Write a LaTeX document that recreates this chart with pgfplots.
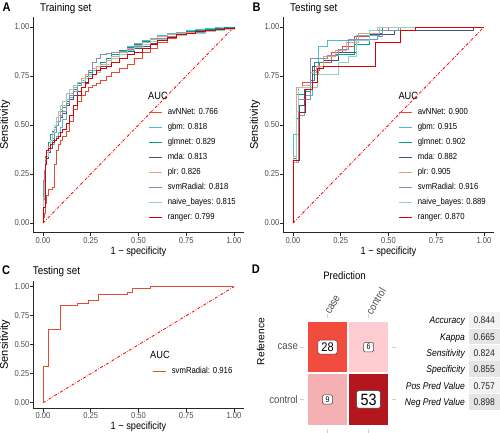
\documentclass[border=0pt]{standalone}
\usepackage{pgfplots}
\usepackage{pgfplotstable}
\pgfplotsset{compat=1.18}
\usepackage{fontspec}
\setmainfont{Liberation Sans}[FakeStretch=0.88]
\newfontfamily\rotfont{Liberation Sans}

\definecolor{cavn}{HTML}{E64B35}
\definecolor{cgbm}{HTML}{4DBBD5}
\definecolor{cglm}{HTML}{00A087}
\definecolor{cmda}{HTML}{3C5488}
\definecolor{cplr}{HTML}{F39B7F}
\definecolor{csvm}{HTML}{8491B4}
\definecolor{cnb}{HTML}{91D1C2}
\definecolor{crf}{HTML}{DC0000}
\definecolor{gtext}{HTML}{4D4D4D}
\definecolor{tA}{HTML}{F24C3E}
\definecolor{tB}{HTML}{FFCCD2}
\definecolor{tC}{HTML}{F5B0B3}
\definecolor{tD}{HTML}{B3171D}
\definecolor{g95}{HTML}{F2F2F2}
\definecolor{g90}{HTML}{E5E5E5}

\pgfplotstableread{
x     avNNet gbm  glmnet mda  plr  svmRadial nb   ranger
0     0      0    0      0    0    0         0    0
0     0.03   0.12 0.18   0.20 0.15 0.22      0.13 0.08
0.005 0.05   0.20 0.25   0.26 0.22 0.27      0.20 0.08
0.01  0.07   0.27 0.30   0.27 0.29 0.30      0.26 0.27
0.015 0.10   0.30 0.34   0.30 0.33 0.32      0.30 0.30
0.02  0.14   0.33 0.37   0.33 0.36 0.34      0.34 0.37
0.03  0.17   0.36 0.41   0.36 0.39 0.37      0.38 0.38
0.04  0.17   0.38 0.45   0.38 0.42 0.40      0.42 0.40
0.05  0.18   0.40 0.47   0.42 0.45 0.43      0.46 0.41
0.06  0.30   0.42 0.49   0.46 0.48 0.46      0.50 0.42
0.07  0.37   0.44 0.52   0.50 0.52 0.50      0.54 0.43
0.08  0.40   0.46 0.55   0.52 0.55 0.52      0.57 0.44
0.09  0.42   0.49 0.57   0.54 0.58 0.55      0.60 0.46
0.10  0.44   0.53 0.59   0.56 0.60 0.57      0.62 0.48
0.12  0.47   0.60 0.62   0.60 0.63 0.61      0.66 0.51
0.14  0.52   0.64 0.65   0.63 0.66 0.65      0.68 0.55
0.16  0.58   0.67 0.68   0.65 0.69 0.67      0.70 0.60
0.18  0.62   0.70 0.71   0.67 0.72 0.70      0.72 0.65
0.20  0.65   0.72 0.73   0.69 0.74 0.72      0.73 0.69
0.22  0.67   0.74 0.75   0.71 0.76 0.74      0.74 0.72
0.24  0.69   0.76 0.77   0.74 0.78 0.78      0.75 0.74
0.26  0.70   0.78 0.79   0.76 0.79 0.82      0.76 0.76
0.28  0.71   0.80 0.80   0.78 0.80 0.84      0.77 0.78
0.30  0.73   0.82 0.82   0.80 0.81 0.86      0.79 0.79
0.33  0.75   0.84 0.84   0.83 0.83 0.865     0.81 0.80
0.36  0.77   0.86 0.86   0.85 0.85 0.87      0.84 0.82
0.40  0.79   0.88 0.88   0.86 0.87 0.875     0.86 0.84
0.44  0.81   0.90 0.895  0.875 0.89 0.885    0.88 0.86
0.48  0.84   0.915 0.91  0.89 0.905 0.90     0.895 0.87
0.52  0.87   0.93 0.925  0.90 0.92 0.91      0.91 0.89
0.56  0.89   0.94 0.935  0.915 0.935 0.925   0.925 0.91
0.60  0.92   0.955 0.95  0.935 0.95 0.94     0.935 0.93
0.65  0.94   0.965 0.96  0.95 0.96 0.95      0.945 0.945
0.70  0.955  0.975 0.97  0.96 0.97 0.96      0.955 0.96
0.75  0.965  0.985 0.98  0.97 0.975 0.97     0.965 0.97
0.80  0.975  0.99 0.985  0.98 0.98 0.975     0.97 0.98
0.85  0.985  0.995 0.99  0.985 0.985 0.98    0.98 0.985
0.90  0.99   1    0.995  0.99 0.99 0.99      0.985 0.99
0.95  0.995  1    1      0.995 0.995 0.995   0.99 0.995
1     1      1    1      1    1    1         1    1
}\train

\pgfplotsset{
  rocaxis/.style={
    scale only axis, width=210.1pt,
    xmin=-0.05, xmax=1.05, ymin=-0.05, ymax=1.05,
    axis x line*=bottom, axis y line*=left,
    axis line style={-, line width=0.8pt, black!85},
    xtick={0,0.25,0.5,0.75,1}, ytick={0,0.25,0.5,0.75,1},
    xticklabels={0.00,0.25,0.50,0.75,1.00},
    yticklabels={0.00,0.25,0.50,0.75,1.00},
    tick align=outside, major tick length=3pt,
    tick style={black!85, line width=0.6pt},
    ticklabel style={font=\fontsize{8.6}{9}\selectfont, text=gtext, inner sep=1pt},
    xlabel={1 − specificity}, ylabel={Sensitivity},
    xlabel style={font=\fontsize{10.5}{11}\selectfont, at={(axis description cs:0.5,0)}, anchor=center, yshift=-18.5pt},
    ylabel style={font=\rotfont\fontsize{11}{12}\selectfont, at={(axis description cs:-0.135,0.5)}, anchor=center},
    legend cell align=left,
    legend image code/.code={\draw[mark repeat=2, mark phase=2, ##1] plot coordinates {(0pt,0pt) (6.75pt,0pt) (13.5pt,0pt)};},
    legend style={draw=none, fill=none, inner sep=0pt, row sep=7pt, column sep=5pt,
      font=\fontsize{8.8}{9}\selectfont,
      nodes={inner sep=0pt, text height=6pt, text depth=2pt}},
  },
  diag/.style={red, line width=0.8pt, dash pattern=on 3pt off 1.5pt on 0.7pt off 1.5pt, forget plot},
}

\begin{document}
\begin{tikzpicture}[x=1pt,y=1pt]
\useasboundingbox (0,0) rectangle (500,433);

% ---------------- Panel A ----------------
\begin{axis}[rocaxis, height=215.6pt, at={(33.45pt,200.2pt)}, anchor=south west,
  legend style={at={(axis description cs:0.5452,0.5788)}, anchor=north west}]
\addplot[diag] coordinates {(0,0) (1,1)};
\addplot[color=cavn, line width=0.75pt, const plot, forget plot] table[x=x, y=avNNet] {\train};
\addplot[color=cgbm, line width=0.75pt, const plot, forget plot] table[x=x, y=gbm] {\train};
\addplot[color=cglm, line width=0.75pt, const plot, forget plot] table[x=x, y=glmnet] {\train};
\addplot[color=cmda, line width=0.75pt, const plot, forget plot] table[x=x, y=mda] {\train};
\addplot[color=cplr, line width=0.75pt, const plot, forget plot] table[x=x, y=plr] {\train};
\addplot[color=csvm, line width=0.75pt, const plot, forget plot] table[x=x, y=svmRadial] {\train};
\addplot[color=cnb, line width=0.75pt, const plot, forget plot] table[x=x, y=nb] {\train};
\addplot[color=crf, line width=0.75pt, const plot, forget plot] table[x=x, y=ranger] {\train};
\addlegendimage{color=cavn, line width=1.1pt} \addlegendentry{avNNet: 0.766}
\addlegendimage{color=cgbm, line width=1.1pt} \addlegendentry{gbm: 0.818}
\addlegendimage{color=cglm, line width=1.1pt} \addlegendentry{glmnet: 0.829}
\addlegendimage{color=cmda, line width=1.1pt} \addlegendentry{mda: 0.813}
\addlegendimage{color=cplr, line width=1.1pt} \addlegendentry{plr: 0.826}
\addlegendimage{color=csvm, line width=1.1pt} \addlegendentry{svmRadial: 0.818}
\addlegendimage{color=cnb, line width=1.1pt} \addlegendentry{naive\_bayes: 0.815}
\addlegendimage{color=crf, line width=1.1pt} \addlegendentry{ranger: 0.799}
\end{axis}

% ---------------- Panel B ----------------
\begin{axis}[rocaxis, height=215.6pt, at={(283.45pt,200.2pt)}, anchor=south west,
  legend style={at={(axis description cs:0.5452,0.5788)}, anchor=north west}]
\addplot[diag] coordinates {(0,0) (1,1)};
\addplot[color=cavn, line width=0.75pt, forget plot] coordinates {(0,0)(0,0.32)(0.016,0.32)(0.016,0.69)(0.05,0.69)(0.05,0.72)(0.10,0.72)(0.10,0.78)(0.14,0.78)(0.14,0.82)(0.20,0.82)(0.20,0.87)(0.26,0.87)(0.26,0.90)(0.32,0.90)(0.32,0.95)(0.40,0.95)(0.40,0.985)(0.50,0.985)(0.50,1)(1,1)};
\addplot[color=cgbm, line width=0.75pt, forget plot] coordinates {(0,0)(0,0.45)(0.026,0.45)(0.026,0.55)(0.06,0.55)(0.06,0.65)(0.10,0.65)(0.10,0.76)(0.133,0.76)(0.133,0.90)(0.18,0.90)(0.18,0.93)(0.33,0.93)(0.33,0.955)(0.45,0.955)(0.45,0.985)(0.55,0.985)(0.55,1)(1,1)};
\addplot[color=cglm, line width=0.75pt, forget plot] coordinates {(0,0)(0,0.33)(0.016,0.33)(0.016,0.655)(0.06,0.655)(0.06,0.67)(0.09,0.67)(0.09,0.73)(0.11,0.73)(0.11,0.82)(0.16,0.82)(0.16,0.85)(0.22,0.85)(0.22,0.86)(0.32,0.86)(0.32,0.91)(0.40,0.91)(0.40,0.97)(0.47,0.97)(0.47,1)(1,1)};
\addplot[color=cmda, line width=0.75pt, forget plot] coordinates {(0,0)(0,0.31)(0.016,0.31)(0.016,0.535)(0.033,0.535)(0.033,0.60)(0.06,0.60)(0.06,0.68)(0.10,0.68)(0.10,0.80)(0.16,0.80)(0.16,0.83)(0.24,0.83)(0.24,0.87)(0.33,0.87)(0.33,0.93)(0.40,0.93)(0.40,0.96)(0.53,0.96)(0.53,0.985)(0.945,0.985)(0.945,1)(1,1)};
\addplot[color=cplr, line width=0.75pt, forget plot] coordinates {(0,0)(0,0.34)(0.016,0.34)(0.016,0.69)(0.05,0.69)(0.05,0.70)(0.09,0.70)(0.09,0.77)(0.12,0.77)(0.12,0.80)(0.16,0.80)(0.16,0.85)(0.22,0.85)(0.22,0.88)(0.28,0.88)(0.28,0.92)(0.34,0.92)(0.34,0.97)(0.45,0.97)(0.45,1)(1,1)};
\addplot[color=csvm, line width=0.75pt, forget plot] coordinates {(0,0)(0,0.31)(0.03,0.31)(0.03,0.63)(0.09,0.63)(0.09,0.84)(0.18,0.84)(0.18,0.855)(0.24,0.855)(0.24,0.885)(0.29,0.885)(0.29,0.935)(0.44,0.935)(0.44,0.95)(0.47,0.95)(0.47,0.985)(0.56,0.985)(0.56,1)(1,1)};
\addplot[color=cnb, line width=0.75pt, forget plot] coordinates {(0,0)(0,0.31)(0.016,0.31)(0.016,0.57)(0.03,0.57)(0.03,0.69)(0.13,0.69)(0.13,0.76)(0.24,0.76)(0.24,0.82)(0.29,0.82)(0.29,0.85)(0.33,0.85)(0.33,0.93)(0.40,0.93)(0.40,0.985)(0.44,0.985)(0.44,1)(1,1)};
\addplot[color=crf, line width=0.75pt, forget plot] coordinates {(0,0)(0,0.32)(0.033,0.32)(0.033,0.565)(0.063,0.565)(0.063,0.68)(0.10,0.68)(0.10,0.72)(0.125,0.72)(0.125,0.79)(0.16,0.79)(0.16,0.80)(0.43,0.80)(0.43,0.92)(0.56,0.92)(0.56,0.985)(0.64,0.985)(0.64,1)(1,1)};
\addlegendimage{color=cavn, line width=1.1pt} \addlegendentry{avNNet: 0.900}
\addlegendimage{color=cgbm, line width=1.1pt} \addlegendentry{gbm: 0.915}
\addlegendimage{color=cglm, line width=1.1pt} \addlegendentry{glmnet: 0.902}
\addlegendimage{color=cmda, line width=1.1pt} \addlegendentry{mda: 0.882}
\addlegendimage{color=cplr, line width=1.1pt} \addlegendentry{plr: 0.905}
\addlegendimage{color=csvm, line width=1.1pt} \addlegendentry{svmRadial: 0.916}
\addlegendimage{color=cnb, line width=1.1pt} \addlegendentry{naive\_bayes: 0.889}
\addlegendimage{color=crf, line width=1.1pt} \addlegendentry{ranger: 0.870}
\end{axis}

% ---------------- Panel C ----------------
\begin{axis}[rocaxis, height=127.6pt, at={(33.45pt,24.5pt)}, anchor=south west,
  legend style={at={(axis description cs:0.5643,0.3197)}, anchor=north west}]
\addplot[diag] coordinates {(0,0) (1,1)};
\addplot[color=cavn, line width=0.9pt, forget plot] coordinates {(0,0)(0,0.31)(0.03,0.31)(0.03,0.63)(0.09,0.63)(0.09,0.84)(0.18,0.84)(0.18,0.855)(0.24,0.855)(0.24,0.885)(0.29,0.885)(0.29,0.935)(0.44,0.935)(0.44,0.95)(0.47,0.95)(0.47,0.985)(0.56,0.985)(0.56,1)(1,1)};
\addlegendimage{color=cavn, line width=1.1pt} \addlegendentry{svmRadial: 0.916}
\end{axis}

% ---------------- Panel D ----------------
\begin{axis}[scale only axis, width=88pt, height=110.6pt, at={(304pt,4.4pt)}, anchor=south west,
  xmin=0.427, xmax=2.573, ymin=0.443, ymax=2.557, y dir=reverse,
  axis line style={draw=none},
  xtick={1,2}, ytick={1,2}, xticklabels={case,control}, yticklabels={case,control},
  xtick pos=both, ytick pos=both, xticklabel pos=right, yticklabel pos=left,
  tick align=outside, major tick length=4pt, tick style={black!18, line width=0.6pt},
  ticklabel style={font=\fontsize{10.8}{11}\selectfont, text=gtext},
  xticklabel style={rotate=60, anchor=west, inner sep=0.5pt},
  yticklabel style={inner sep=2pt},
  clip=false]
\addplot[fill=tA, draw=white, line width=2pt] coordinates {(0.5,0.5)(1.5,0.5)(1.5,1.5)(0.5,1.5)} -- cycle;
\addplot[fill=tB, draw=white, line width=2pt] coordinates {(1.5,0.5)(2.5,0.5)(2.5,1.5)(1.5,1.5)} -- cycle;
\addplot[fill=tC, draw=white, line width=2pt] coordinates {(0.5,1.5)(1.5,1.5)(1.5,2.5)(0.5,2.5)} -- cycle;
\addplot[fill=tD, draw=white, line width=2pt] coordinates {(1.5,1.5)(2.5,1.5)(2.5,2.5)(1.5,2.5)} -- cycle;
\addplot[draw=none, nodes near coords, point meta=explicit symbolic, nodes near coords align=center,
  every node near coord/.append style={draw=black!75, line width=0.5pt, fill=white, rounded corners=2pt,
  font=\fontsize{12.5}{13}\selectfont, text=black, inner xsep=3.5pt, inner ysep=2.5pt}] coordinates {(1,1) [28]};
\addplot[draw=none, nodes near coords, point meta=explicit symbolic, nodes near coords align=center,
  every node near coord/.append style={draw=black!75, line width=0.5pt, fill=white, rounded corners=1.5pt,
  font=\fontsize{8}{8}\selectfont, text=black, inner xsep=3.2pt, inner ysep=1.8pt}] coordinates {(2,1) [6] (1,2) [9]};
\addplot[draw=none, nodes near coords, point meta=explicit symbolic, nodes near coords align=center,
  every node near coord/.append style={draw=black!75, line width=0.5pt, fill=white, rounded corners=2pt,
  font=\fontsize{16.3}{17}\selectfont, text=black, inner xsep=3.8pt, inner ysep=3pt}] coordinates {(2,2) [53]};
\end{axis}

% ---------------- Titles and legend titles ----------------
\node[anchor=base west, inner sep=0, font=\bfseries\fontsize{12.5}{13}\selectfont] at (2.5,421.3) {A};
\node[anchor=base west, inner sep=0, font=\fontsize{11.2}{12}\selectfont] at (40,421.5) {Training set};
\node[anchor=base west, inner sep=0, font=\bfseries\fontsize{12.5}{13}\selectfont] at (252.5,421.3) {B};
\node[anchor=base west, inner sep=0, font=\fontsize{11.2}{12}\selectfont] at (290,421.5) {Testing set};
\node[anchor=base west, inner sep=0, font=\bfseries\fontsize{12.5}{13}\selectfont] at (2,158.5) {C};
\node[anchor=base west, inner sep=0, font=\fontsize{11.2}{12}\selectfont] at (32.7,158) {Testing set};
\node[anchor=base west, inner sep=0, font=\bfseries\fontsize{12.5}{13}\selectfont] at (251.7,159.5) {D};

\node[anchor=base west, inner sep=0, font=\fontsize{10.5}{11}\selectfont] at (148,333) {AUC};
\node[anchor=base west, inner sep=0, font=\fontsize{10.5}{11}\selectfont] at (398.3,333) {AUC};
\node[anchor=base west, inner sep=0, font=\fontsize{10.5}{11}\selectfont] at (150,74.7) {AUC};

\node[anchor=base, inner sep=0, font=\fontsize{10.8}{11}\selectfont] at (344.5,153.7) {Prediction};
\node[anchor=center, inner sep=0, rotate=90, font=\rotfont\fontsize{10.2}{11}\selectfont] at (260.8,91.5) {Reference};

% ---------------- Statistics table ----------------
\foreach \lab/\val/\py/\fc in {Accuracy/0.844/320.3/g95, Kappa/0.665/336.7/g90, Sensitivity/0.824/353.0/g95, Specificity/0.855/369.3/g90, Pos Pred Value/0.757/385.7/g95, Neg Pred Value/0.898/402.0/g90}{
  \fill[\fc] (469,433-\py-7.8) rectangle (499.5,433-\py+7.8);
  \node[anchor=base east, inner sep=0, font=\itshape\fontsize{9.7}{10}\selectfont] at (465,433-\py-3.5) {\lab};
  \node[anchor=base, inner sep=0, font=\fontsize{9.7}{10}\selectfont, text=black!85] at (484.2,433-\py-3.5) {\val};
}
\end{tikzpicture}
\end{document}
